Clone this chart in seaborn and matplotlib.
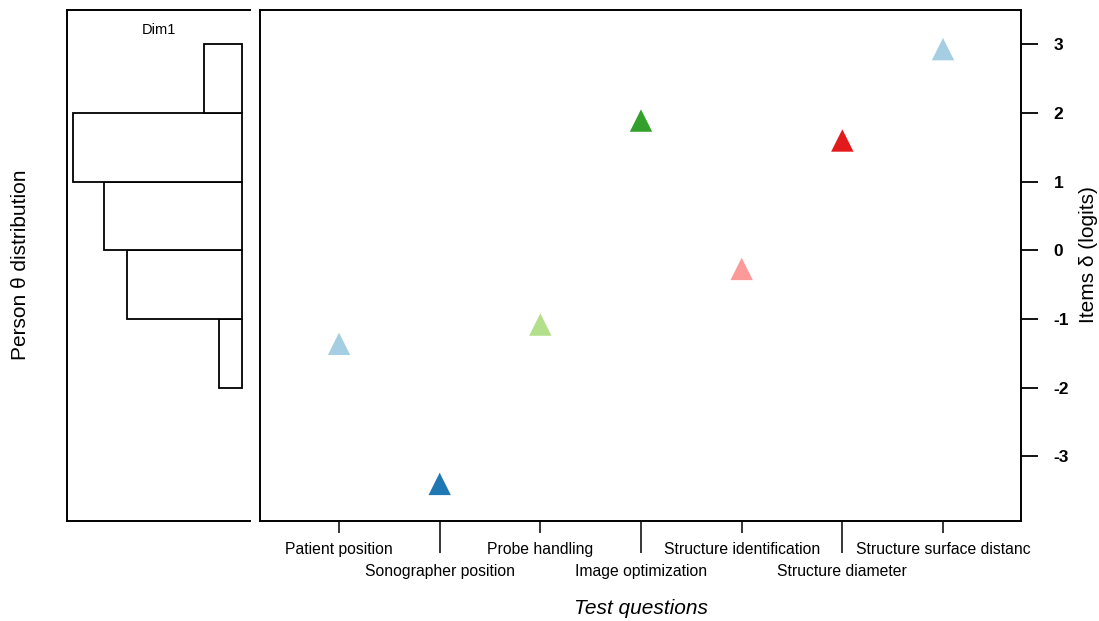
import matplotlib
matplotlib.use("Agg")
import matplotlib.pyplot as plt
import numpy as np
import seaborn as sns

# item difficulties (logits)
items = [
    "Patient position",
    "Sonographer position",
    "Probe handling",
    "Image optimization",
    "Structure identification",
    "Structure diameter",
    "Structure surface distanc",
]
item_logits = [-1.36, -3.40, -1.08, 1.89, -0.27, 1.60, 2.93]

# person distribution histogram (counts per 1-logit bin)
bin_edges = [-2, -1, 0, 1, 2, 3]
bin_counts = [3, 15, 18, 22, 5]

y_ticks = [-3, -2, -1, 0, 1, 2, 3]

sns.set_style("white")
plt.rcParams["font.family"] = ["Liberation Sans", "DejaVu Sans"]
plt.rcParams["axes.unicode_minus"] = False
plt.rcParams["text.color"] = "black"

pal = sns.color_palette("Paired", 6).as_hex()
item_colors = {name: pal[i % 6] for i, name in enumerate(items)}

fig = plt.figure(figsize=(10.99, 6.21), dpi=100)
ax_h = fig.add_axes([67 / 1099, 1 - 521 / 621, 183 / 1099, 511 / 621])
ax = fig.add_axes([260 / 1099, 1 - 521 / 621, 761 / 1099, 511 / 621])

ylim = (-3.94, 3.50)

# left panel: person histogram
mids = [(a + b) / 2 for a, b in zip(bin_edges[:-1], bin_edges[1:])]
sns.histplot(y=mids, weights=bin_counts, bins=bin_edges, ax=ax_h,
             color="white", edgecolor="black", linewidth=1.3, alpha=1)
ax_h.set_xlim(22.78, -1.0)
ax_h.set_ylim(*ylim)
ax_h.set_xticks([])
ax_h.set_yticks([])
ax_h.set_xlabel("")
ax_h.set_ylabel("")
for side in ["left", "top", "bottom"]:
    ax_h.spines[side].set_linewidth(1.4)
    ax_h.spines[side].set_color("black")
ax_h.spines["right"].set_visible(False)
ax_h.text(0.5, 0.961, "Dim1", transform=ax_h.transAxes, ha="center", va="center",
          fontsize=10.5, color="black")

# right panel: item locations
x_pos = np.arange(len(items))
sns.scatterplot(x=x_pos, y=item_logits, hue=items, palette=item_colors,
                marker="^", s=260, linewidth=0, legend=False, ax=ax)
ax.set_xlim(-0.785, 6.775)
ax.set_ylim(*ylim)
for side in ["left", "right", "top", "bottom"]:
    ax.spines[side].set_linewidth(1.4)
    ax.spines[side].set_color("black")

ax.yaxis.tick_right()
ax.set_yticks(y_ticks, labels=[str(t) for t in y_ticks])
ax.tick_params(axis="y", which="major", direction="out", length=12, width=1.3,
               pad=11.5, labelsize=12.5, colors="black", right=True, left=False)
for lab in ax.get_yticklabels():
    lab.set_fontweight("bold")

ax.set_xticks(x_pos[0::2], labels=items[0::2])
ax.set_xticks(x_pos[1::2], labels=items[1::2], minor=True)
ax.tick_params(axis="x", which="major", direction="out", length=8.6, width=1.1,
               pad=6.5, labelsize=11.3, colors="black", bottom=True)
ax.tick_params(axis="x", which="minor", direction="out", length=23, width=1.1,
               pad=8.0, labelsize=11.3, colors="black", bottom=True)
ax.set_xlabel("")
ax.set_ylabel("")

fig.text(640.5 / 1099, 1 - 608 / 621, "Test questions", ha="center", va="center",
         fontsize=15, style="italic", color="black")
fig.text(21 / 1099, 1 - 265 / 621, "Person \u03b8 distribution", ha="center",
         va="center", rotation=90, fontsize=15, color="black")
fig.text(1088 / 1099, 1 - 255 / 621, "Items \u03b4 (logits)", ha="center",
         va="center", rotation=90, fontsize=15, color="black")

fig.savefig("out.png", dpi=100)
